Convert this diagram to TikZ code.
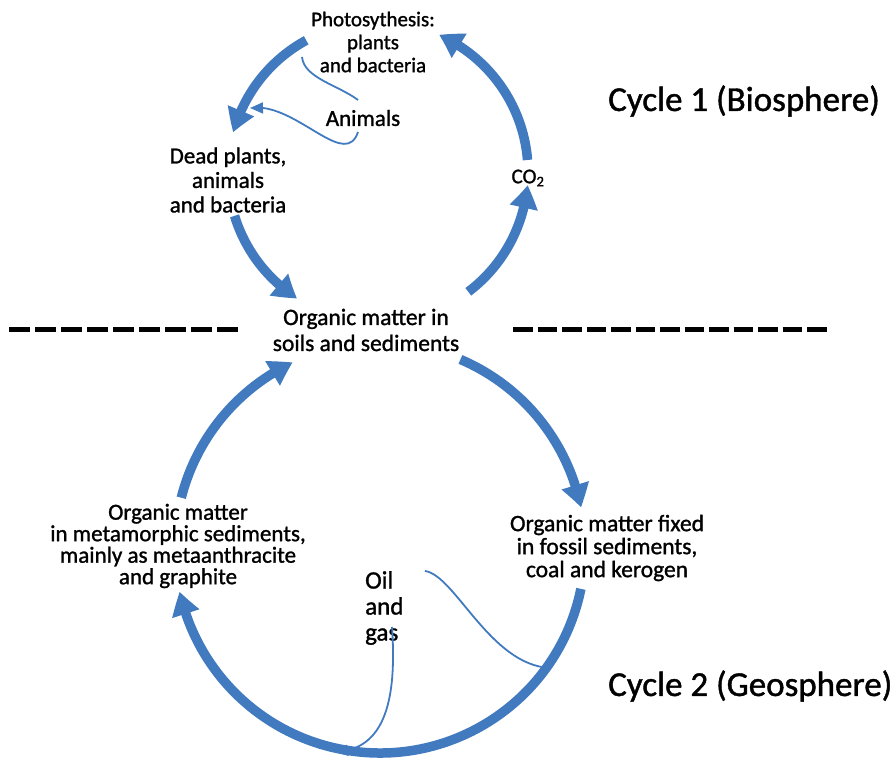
\documentclass[tikz,border=0pt]{standalone}
\usepackage{fontspec}
\setmainfont{Carlito}[UprightFeatures={FakeBold=1.2}]
\usetikzlibrary{arrows.meta,bending}
\definecolor{cyc}{RGB}{66,122,192}
\begin{document}
\begin{tikzpicture}[x=1pt,y=1pt,
  big/.style={draw=cyc, line width=9.5pt, -{Triangle[length=23pt,width=27pt,bend]}},
  thinarrow/.style={draw=cyc, line width=1.8pt, -{Triangle[length=13pt,width=11pt]}},
  thinline/.style={draw=cyc, line width=1.8pt},
  lbl/.style={font=\fontsize{23}{24.5}\selectfont, align=center, inner sep=0pt},
  sep/.style={draw=black, line width=5pt}]
\useasboundingbox (0,0) rectangle (896,766);

% texts
\node[lbl, font=\fontsize{21}{23}\selectfont] (photo) at (373,724) {Photosythesis:\\plants\\and bacteria};
\node[lbl] (animals) at (363,648) {Animals};
\node[lbl] (dead) at (228,586) {Dead plants,\\animals\\and bacteria};
\node[lbl, font=\fontsize{21}{23}\selectfont] (co2) at (528,588) {CO\textsubscript{2}};
\node[lbl, font=\fontsize{23.5}{26}\selectfont] (soil) at (366,436) {Organic matter in\\soils and sediments};
\node[lbl, font=\fontsize{23}{21.5}\selectfont] (meta) at (178,220) {Organic matter\\in metamorphic sediments,\\mainly as metaanthracite\\and graphite};
\node[lbl, font=\fontsize{23.5}{23}\selectfont] (fossil) at (607,218) {Organic matter fixed\\in fossil sediments,\\coal and kerogen};
\node[lbl, font=\fontsize{25}{26}\selectfont, align=left, anchor=west] (oil) at (365,158) {Oil\\and\\gas};
\node[lbl, font=\fontsize{35}{40}\selectfont, anchor=west] (cyc1) at (608,665) {Cycle 1 (Biosphere)};
\node[lbl, font=\fontsize{35}{40}\selectfont, anchor=west] (cyc2) at (608,80) {Cycle 2 (Geosphere)};

% separators
\draw[sep, dash pattern=on 20.5pt off 5.5pt] (9,436) -- (238,436);
\draw[sep, dash pattern=on 19.5pt off 5pt] (513,436) -- (827,436);

% upper cycle
\coordinate (U) at (378,594);
\path (U) ++(118.6:150) coordinate (a1s);
\path (U) ++(197:150) coordinate (a2s);
\path (U) ++(-53:150) coordinate (a3s);
\path (U) ++(4.6:150) coordinate (a4s);
\draw[big] (a1s) arc[start angle=118.6, end angle=164.7, radius=150];
\draw[big] (a2s) arc[start angle=197, end angle=237.4, radius=150];
\draw[big] (a3s) arc[start angle=-53, end angle=-5, radius=150];
\draw[big] (a4s) arc[start angle=4.6, end angle=66, radius=150];

% lower cycle
\coordinate (L) at (380,218);
\path (L) ++(66.9:205) coordinate (b1s);
\path (L) ++(-11.5:205) coordinate (b2s);
\path (L) ++(165.8:205) coordinate (b3s);
\draw[big] (b1s) arc[start angle=66.9, end angle=11.4, radius=205];
\draw[big] (b2s) arc[start angle=-11.5, end angle=-167.7, radius=205];
\draw[big] (b3s) arc[start angle=165.8, end angle=115.2, radius=205];

% animals branch
\coordinate (an1s) at (302,709);
\coordinate (an1e) at (358,666);
\coordinate (an2s) at (358,634);
\coordinate (an2e) at (250,658);
\draw[thinline] (an1s) .. controls (304,688) and (338,681) .. (an1e);
\draw[thinarrow] (an2s) .. controls (345,595) and (295,665) .. (an2e);

% oil and gas branch
\coordinate (o1s) at (425,195);
\coordinate (o1e) at (550,98);
\coordinate (o2s) at (392,139);
\coordinate (o2e) at (335,14);
\draw[thinline] (o1s) .. controls (455,191) and (490,101) .. (o1e);
\draw[thinarrow] (o2s) .. controls (397,66) and (385,16) .. (o2e);
\end{tikzpicture}
\end{document}
